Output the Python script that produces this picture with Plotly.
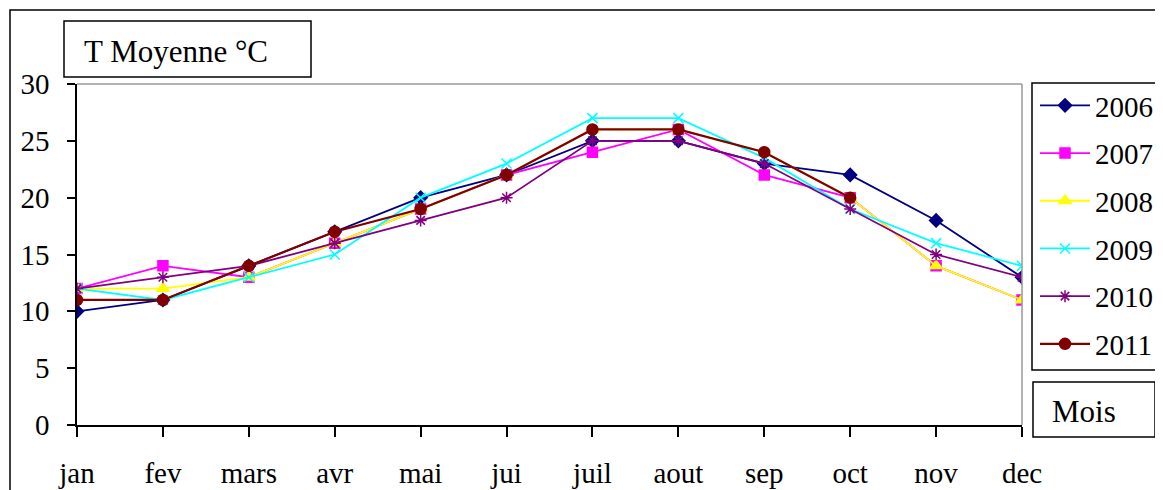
import plotly.graph_objects as go

months = ["jan", "fev", "mars", "avr", "mai", "jui", "juil", "aout", "sep", "oct", "nov", "dec"]
t2006 = [10, 11, 14, 17, 20, 22, 25, 25, 23, 22, 18, 13]
t2007 = [12, 14, 13, 16, 19, 22, 24, 26, 22, 20, 14, 11]
t2008 = [12, 12, 13, 16, 19, 22, 26, 26, 24, 20, 14, 11]
t2009 = [12, 11, 13, 15, 20, 23, 27, 27, 23.5, 19, 16, 14]
t2010 = [12, 13, 14, 16, 18, 20, 25, 25, 23, 19, 15, 13]
t2011 = [11, 11, 14, 17, 19, 22, 26, 26, 24, 20, None, None]
y_ticks = [0, 5, 10, 15, 20, 25, 30]

series = [
    ("2006", t2006, "#000080", "diamond", 10, 1.8),
    ("2007", t2007, "#FF00FF", "square", 10, 1.8),
    ("2008", t2008, "#FFFF00", "triangle-up", 11, 1.8),
    ("2009", t2009, "#00FFFF", "x-thin-open", 10, 1.8),
    ("2010", t2010, "#800080", "asterisk-open", 10, 1.8),
    ("2011", t2011, "#800000", "circle", 11, 2.2),
]

FONT = "Liberation Serif"
W, H = 1163, 490
OFF = 8  # page body margin offset
# plot area in screen pixels
SL, SR, ST, SB = 77, 1022, 84, 425
L, R, T, B = SL - OFF, SR - OFF, ST - OFF, SB - OFF

fig = go.Figure()
xs = list(range(len(months)))
for name, vals, col, sym, sz, lw in series:
    fig.add_trace(go.Scatter(
        x=xs, y=vals, name=name, mode="lines+markers",
        line=dict(color=col, width=lw),
        marker=dict(symbol=sym, size=sz, color=col, line=dict(color=col, width=1.5)),
        legendgroup=name,
    ))

def px(x):  # screen px -> paper
    return (x - SL) / (SR - SL)

def py(y):
    return (SB - y) / (SB - ST)

shapes = [
    # outer frame
    dict(type="rect", xref="paper", yref="paper", x0=px(10), x1=px(1200), y0=py(10), y1=py(520),
         line=dict(color="black", width=1.5)),
    # plot area top / right border
    dict(type="line", xref="paper", yref="paper", x0=0, x1=1, y0=1, y1=1, line=dict(color="#999999", width=1.5)),
    dict(type="line", xref="paper", yref="paper", x0=1, x1=1, y0=0, y1=1, line=dict(color="#999999", width=1.5)),
    # title box
    dict(type="rect", xref="paper", yref="paper", x0=px(64), x1=px(311), y0=py(21), y1=py(77),
         line=dict(color="black", width=1.5), fillcolor="white"),
    # legend box
    dict(type="rect", xref="paper", yref="paper", x0=px(1032), x1=px(1157), y0=py(83), y1=py(370),
         line=dict(color="black", width=1.5)),
    # Mois box
    dict(type="rect", xref="paper", yref="paper", x0=px(1033), x1=px(1155), y0=py(382), y1=py(437),
         line=dict(color="black", width=1.5)),
]

annotations = [
    dict(text="T Moyenne °C", xref="paper", yref="paper", x=px(82), y=py(51), xanchor="left", yanchor="middle",
         showarrow=False, font=dict(family=FONT, size=31, color="black")),
    dict(text="Mois", xref="paper", yref="paper", x=px(1050), y=py(411), xanchor="left", yanchor="middle",
         showarrow=False, font=dict(family=FONT, size=31, color="black")),
]

fig.update_layout(
    width=W, height=H,
    margin=dict(l=L, r=W - R, t=T, b=H - B, autoexpand=False),
    paper_bgcolor="white", plot_bgcolor="white",
    font=dict(family=FONT, size=29, color="black"),
    showlegend=True,
    legend=dict(xref="container", yref="container", x=(1035 - OFF) / W, y=1 - (80 - OFF) / H,
                xanchor="left", yanchor="top", maxheight=420,
                bgcolor="rgba(0,0,0,0)", borderwidth=0, traceorder="grouped", tracegroupgap=7, itemwidth=50,
                font=dict(family=FONT, size=29, color="black")),
    shapes=shapes, annotations=annotations,
    xaxis=dict(range=[0, 11], tickmode="array", tickvals=xs, ticktext=months, showgrid=False, zeroline=False,
               showline=True, linecolor="black", linewidth=1.5, ticks="outside", ticklen=10, tickwidth=1.5,
               tickcolor="black", ticklabelstandoff=11, fixedrange=True),
    yaxis=dict(range=[0, 30], tickmode="array", tickvals=y_ticks, showgrid=False, zeroline=False,
               showline=True, linecolor="black", linewidth=1.5, ticks="outside", ticklen=8, tickwidth=1.5,
               tickcolor="black", ticklabelstandoff=12, fixedrange=True),
)

fig.write_html("out.html")
